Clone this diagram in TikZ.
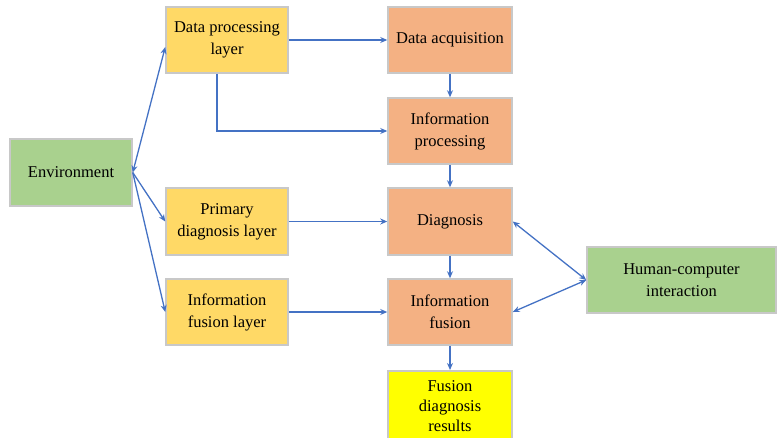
\documentclass[tikz,border=0pt]{standalone}
\usepackage{fontspec}
\setmainfont{Liberation Serif}
\usetikzlibrary{arrows.meta}
\definecolor{cgreen}{HTML}{A9D18E}
\definecolor{cgold}{HTML}{FFD966}
\definecolor{corange}{HTML}{F4B183}
\definecolor{cyel}{HTML}{FFFF00}
\definecolor{cblue}{HTML}{4472C4}
\definecolor{cborder}{HTML}{C8C8C8}
\tikzset{
  box/.style={draw=cborder, line width=1.5pt, align=center, font=\fontsize{16.5}{22}\selectfont, inner sep=0pt},
  arr/.style={draw=cblue, line width=1.3pt, -{Stealth[length=7pt,width=6pt]}},
  darr/.style={draw=cblue, line width=1.3pt, {Stealth[length=7pt,width=6pt]}-{Stealth[length=7pt,width=6pt]}}
}
\newcommand{\bx}[7]{\node[box, fill=#6, minimum width=#3pt-#1pt, minimum height=#4pt-#2pt] (#5) at ({(#1+#3)/2*1pt},{-(#2+#4)/2*1pt}) {#7};}
\begin{document}
\begin{tikzpicture}
\useasboundingbox (0,0) rectangle (784pt,-437pt);
\bx{10}{139}{132}{206}{env}{cgreen}{Environment}
\bx{166}{7}{288}{73}{dpl}{cgold}{Data processing\\layer}
\bx{166}{188}{288}{255}{pdl}{cgold}{Primary\\diagnosis layer}
\bx{166}{279}{288}{345}{ifl}{cgold}{Information\\fusion layer}
\bx{388}{7}{512}{73}{da}{corange}{Data acquisition}
\bx{388}{98}{512}{164}{ip}{corange}{Information\\processing}
\bx{388}{188}{512}{255}{dg}{corange}{Diagnosis}
\bx{388}{279}{512}{345}{inf}{corange}{Information\\fusion}
\node[box, fill=cyel, minimum width=124pt, minimum height=70pt, font=\fontsize{16.5}{20}\selectfont, anchor=north] (fdr) at (450pt,-370pt) {Fusion\\diagnosis\\results};
\bx{587}{247}{776}{313}{hci}{cgreen}{Human-computer\\interaction}
\coordinate (e) at (env.east);
\draw[darr] (e) -- ([yshift=-7pt]dpl.west);
\draw[arr] (e) -- (pdl.west);
\draw[arr] (e) -- (ifl.west);
\draw[arr] (dpl.east) -- (da.west);
\draw[arr] ([xshift=-10pt]dpl.south) |- (ip.west);
\draw[arr] (da) -- (ip);
\draw[arr] (ip) -- (dg);
\draw[arr] (dg) -- (inf);
\draw[arr] (inf.south) -- (fdr.north);
\draw[arr] (pdl) -- (dg);
\draw[arr] (ifl) -- (inf);
\draw[darr] (dg.east) -- (hci.west);
\draw[darr] (inf.east) -- (hci.west);
\end{tikzpicture}
\end{document}
